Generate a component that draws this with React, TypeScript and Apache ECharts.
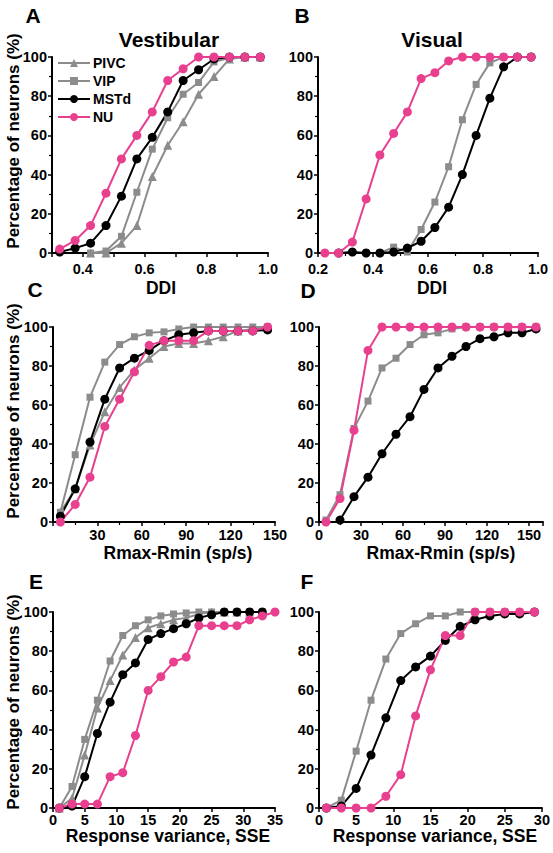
import React, { useEffect, useRef } from 'react';
import * as echarts from 'echarts';

// ---------- DATA ----------
const seriesNames = ['PIVC', 'VIP', 'MSTd', 'NU'];

// Panel A (Vestibular, DDI)
const ddiBinsA = [0.325, 0.375, 0.425, 0.475, 0.525, 0.575, 0.625, 0.675, 0.725, 0.775, 0.825, 0.875, 0.925, 0.975];
const pivcA = [null, null, 0, 0, 5, 14, 39, 55, 67, 81, 90, 99, 100, 100];
const vipA = [null, null, 0, 1, 8.5, 31, 53, 69, 81, 87, 97.5, 99.5, 100, 100];
const mstdA = [0.5, 2.5, 5, 14, 29, 48, 59, 72, 88, 93.5, 99, 100, 100, 100];
const nuA = [2, 6.4, 14, 30.5, 48, 60, 72, 88, 94, 100, 100, 100, 100, 100];

// Panel B (Visual, DDI)
const ddiBinsB = [0.225, 0.275, 0.325, 0.375, 0.425, 0.475, 0.525, 0.575, 0.625, 0.675, 0.725, 0.775, 0.825, 0.875, 0.925, 0.975];
const vipB = [null, null, null, null, 0, 3, 0.5, 12, 26, 44, 68, 86, 97, 100, 100, 100];
const mstdB = [null, 0, 0.5, 0, 0, 0.5, 2.5, 6, 13, 23.4, 40, 60, 79, 95, 100, 100];
const nuB = [0, 0, 5.6, 27.6, 50, 61, 72, 89, 92, 98, 100, 100, 100, 100, 100, 100];

// Panel C (Vestibular, Rmax-Rmin)
const rangeBinsC = [5, 15, 25, 35, 45, 55, 65, 75, 85, 95, 105, 115, 125, 135, 145];
const pivcC = [5, 17, 39.5, 56.5, 69, 78, 84, 90, 91.5, 91.5, 93, 95, 98, 99, 100];
const vipC = [5, 34.5, 64, 82, 91, 95, 97, 97.5, 99, 100, 100, 100, 100, 100, 100];
const mstdC = [3, 17, 41, 63, 79, 84, 88, 93, 96, 97, 98, 98, 98, 98, 98.5];
const nuC = [0, 9, 23, 49, 63, 77, 90.6, 93, 93, 93, 98, 98, 98, 98, 100];

// Panel D (Visual, Rmax-Rmin)
const rangeBinsD = [5, 15, 25, 35, 45, 55, 65, 75, 85, 95, 105, 115, 125, 135, 145, 155];
const vipD = [1, 14, 48, 62, 79, 84, 91, 96, 97, 99, 100, 100, 100, 100, 100, 100];
const mstdD = [null, 1, 13, 23, 35, 45, 54, 68, 79, 85, 90, 94, 95, 97, 97, 99];
const nuD = [0, 12, 47, 88, 100, 100, 100, 100, 100, 100, 100, 100, 100, 100, 100, 100];

// Panel E (Vestibular, SSE)
const sseBinsE = [1, 3, 5, 7, 9, 11, 13, 15, 17, 19, 21, 23, 25, 27, 29, 31, 33, 35];
const pivcE = [0, 5, 27, 51, 65, 78, 87, 92, 94, 96, 97, 99, 100, 100, 100, 100, 100, null];
const vipE = [0, 11, 35, 55, 75, 88, 93, 96, 98, 99, 99.5, 100, 100, 100, 100, 100, 100, null];
const mstdE = [0, 1, 16, 38, 54, 68, 74, 86, 89, 91.5, 94, 97, 98.6, 100, 100, 100, 100, null];
const nuE = [0, 2, 2, 2, 16, 18, 37, 60, 67, 74.5, 77, 93, 93, 93, 93, 96, 98, 100];

// Panel F (Visual, SSE)
const sseBinsF = [1, 3, 5, 7, 9, 11, 13, 15, 17, 19, 21, 23, 25, 27, 29];
const vipF = [0, 4, 29, 55, 76, 89, 94, 98, 98, 100, 100, 100, 100, 100, 100];
const mstdF = [0, 1, 10, 27, 46, 65, 72, 77.5, 85.5, 92.7, 96, 98, 99, 99, 100];
const nuF = [0, 0, 0, 0, 6, 17, 47, 70.5, 88, 88, 100, 100, 100, 100, 100];

const yTicks = [0, 20, 40, 60, 80, 100];

// ---------- STYLE ----------
const PINK = '#e8408f';
const GRAY = '#8c8c8c';
const BLACK = '#000000';
const FONT = '"Liberation Sans", Arial, sans-serif';

const styleOf: Record<string, { color: string; symbol: string; size: number }> = {
  PIVC: { color: GRAY, symbol: 'triangle', size: 9 },
  VIP: { color: GRAY, symbol: 'rect', size: 7 },
  MSTd: { color: BLACK, symbol: 'circle', size: 9 },
  NU: { color: PINK, symbol: 'circle', size: 9 },
};

type Panel = {
  x: number[];
  series: { name: string; y: (number | null)[] }[];
  grid: { left: number; top: number; width: number; height: number };
  xMin: number;
  xMax: number;
  xInterval: number;
  xFormatter: (v: number) => string;
  minor: boolean;
  labelMargin: number;
};

const fmt1 = (v: number) => v.toFixed(1);

const panels: Panel[] = [
  {
    x: ddiBinsA,
    series: [
      { name: 'PIVC', y: pivcA },
      { name: 'VIP', y: vipA },
      { name: 'MSTd', y: mstdA },
      { name: 'NU', y: nuA },
    ],
    grid: { left: 52, top: 57, width: 216, height: 196 },
    xMin: 0.3, xMax: 1.0, xInterval: 0.1,
    xFormatter: (v) => (Math.round(v * 10) % 2 === 0 ? v.toFixed(1) : ''),
    minor: false,
    labelMargin: 8,
  },
  {
    x: ddiBinsB,
    series: [
      { name: 'VIP', y: vipB },
      { name: 'MSTd', y: mstdB },
      { name: 'NU', y: nuB },
    ],
    grid: { left: 318, top: 57, width: 220, height: 196 },
    xMin: 0.2, xMax: 1.0, xInterval: 0.2,
    xFormatter: fmt1,
    minor: true,
    labelMargin: 8,
  },
  {
    x: rangeBinsC,
    series: [
      { name: 'PIVC', y: pivcC },
      { name: 'VIP', y: vipC },
      { name: 'MSTd', y: mstdC },
      { name: 'NU', y: nuC },
    ],
    grid: { left: 53, top: 327, width: 222, height: 195 },
    xMin: 0, xMax: 150, xInterval: 30,
    xFormatter: (v) => (v === 0 ? '' : String(v)),
    minor: true,
    labelMargin: 5,
  },
  {
    x: rangeBinsD,
    series: [
      { name: 'VIP', y: vipD },
      { name: 'MSTd', y: mstdD },
      { name: 'NU', y: nuD },
    ],
    grid: { left: 319, top: 327, width: 224, height: 195 },
    xMin: 0, xMax: 160, xInterval: 30,
    xFormatter: (v) => (v > 150 ? '' : String(v)),
    minor: true,
    labelMargin: 5,
  },
  {
    x: sseBinsE,
    series: [
      { name: 'PIVC', y: pivcE },
      { name: 'VIP', y: vipE },
      { name: 'MSTd', y: mstdE },
      { name: 'NU', y: nuE },
    ],
    grid: { left: 53, top: 612, width: 222, height: 196 },
    xMin: 0, xMax: 35, xInterval: 5,
    xFormatter: (v) => String(v),
    minor: false,
    labelMargin: 4,
  },
  {
    x: sseBinsF,
    series: [
      { name: 'VIP', y: vipF },
      { name: 'MSTd', y: mstdF },
      { name: 'NU', y: nuF },
    ],
    grid: { left: 319, top: 612, width: 224, height: 196 },
    xMin: 0, xMax: 30, xInterval: 5,
    xFormatter: (v) => String(v),
    minor: false,
    labelMargin: 4,
  },
];

const panelLetters = [
  { t: 'A', x: 33, y: 15 },
  { t: 'B', x: 302, y: 15 },
  { t: 'C', x: 35, y: 289 },
  { t: 'D', x: 308, y: 290 },
  { t: 'E', x: 36, y: 581 },
  { t: 'F', x: 307, y: 581 },
];
const columnTitles = [
  { t: 'Vestibular', x: 169, y: 39 },
  { t: 'Visual', x: 432, y: 39 },
];
const xNames = [
  { t: 'DDI', x: 161, y: 288 },
  { t: 'DDI', x: 432, y: 288 },
  { t: 'Rmax-Rmin (sp/s)', x: 178, y: 553 },
  { t: 'Rmax-Rmin (sp/s)', x: 441, y: 553 },
  { t: 'Response variance, SSE', x: 168, y: 836 },
  { t: 'Response variance, SSE', x: 435, y: 836 },
];
const yNames = [
  { t: 'Percentage of neurons (%)', x: 13, y: 141 },
  { t: 'Percentage of neurons (%)', x: 13, y: 411 },
  { t: 'Percentage of neurons (%)', x: 13, y: 702 },
];

function buildOption() {
  const grid: any[] = [];
  const xAxis: any[] = [];
  const yAxis: any[] = [];
  const series: any[] = [];
  panels.forEach((p, i) => {
    grid.push({ ...p.grid, containLabel: false });
    xAxis.push({
      type: 'value',
      gridIndex: i,
      min: p.xMin,
      max: p.xMax,
      interval: p.xInterval,
      splitLine: { show: false },
      axisLine: { show: true, onZero: false, lineStyle: { color: '#000', width: 2 } },
      axisTick: { show: true, inside: false, length: 4, lineStyle: { color: '#000', width: 1.5 } },
      minorTick: { show: p.minor, splitNumber: 2, length: 3, lineStyle: { color: '#000', width: 1.2 } },
      axisLabel: {
        color: '#000', fontFamily: FONT, fontWeight: 'bold', fontSize: 14.5, margin: p.labelMargin,
        formatter: p.xFormatter,
      },
    });
    yAxis.push({
      type: 'value',
      gridIndex: i,
      min: 0,
      max: 100,
      interval: 20,
      splitLine: { show: false },
      axisLine: { show: true, onZero: false, lineStyle: { color: '#000', width: 2 } },
      axisTick: { show: true, inside: false, length: 4, lineStyle: { color: '#000', width: 1.5 } },
      minorTick: { show: true, splitNumber: 2, length: 3, lineStyle: { color: '#000', width: 1.2 } },
      axisLabel: {
        color: '#000', fontFamily: FONT, fontWeight: 'bold', fontSize: 14.5, margin: 5,
        formatter: (v: number) => (yTicks.includes(v) ? String(v) : ''),
      },
    });
    p.series.forEach((s) => {
      const st = styleOf[s.name];
      const data: [number, number][] = [];
      p.x.forEach((xv, k) => {
        const yv = s.y[k];
        if (yv !== null && yv !== undefined) data.push([xv, yv]);
      });
      series.push({
        type: 'line',
        name: s.name,
        xAxisIndex: i,
        yAxisIndex: i,
        data,
        symbol: st.symbol,
        symbolSize: st.size,
        showSymbol: true,
        lineStyle: { color: st.color, width: 2 },
        itemStyle: { color: st.color, borderWidth: 0 },
        z: 2,
        silent: true,
      });
    });
  });

  const graphic: any[] = [];
  panelLetters.forEach((l) =>
    graphic.push({
      type: 'text', x: l.x, y: l.y,
      style: { text: l.t, font: `bold 21px ${FONT}`, fill: '#000', textAlign: 'center', textVerticalAlign: 'middle' },
    })
  );
  columnTitles.forEach((l) =>
    graphic.push({
      type: 'text', x: l.x, y: l.y,
      style: { text: l.t, font: `bold 21px ${FONT}`, fill: '#000', textAlign: 'center', textVerticalAlign: 'middle' },
    })
  );
  xNames.forEach((l) =>
    graphic.push({
      type: 'text', x: l.x, y: l.y,
      style: { text: l.t, font: `bold 17.5px ${FONT}`, fill: '#000', textAlign: 'center', textVerticalAlign: 'middle' },
    })
  );
  yNames.forEach((l) =>
    graphic.push({
      type: 'text', x: l.x, y: l.y, rotation: Math.PI / 2,
      style: { text: l.t, font: `bold 17px ${FONT}`, fill: '#000', textAlign: 'center', textVerticalAlign: 'middle' },
    })
  );

  return {
    animation: false,
    backgroundColor: '#ffffff',
    grid,
    xAxis,
    yAxis,
    series,
    legend: {
      data: seriesNames,
      orient: 'vertical',
      left: 57,
      top: 56,
      itemWidth: 32,
      itemHeight: 10,
      itemGap: 4,
      selectedMode: false,
      textStyle: { color: '#000', fontFamily: FONT, fontWeight: 'bold', fontSize: 14, lineHeight: 14, padding: [0, 0, 0, -2] },
      padding: 0,
    },
    graphic,
  };
}

export default function App() {
  const ref = useRef<HTMLDivElement>(null);
  useEffect(() => {
    if (!ref.current) return;
    const chart = echarts.init(ref.current, undefined, { renderer: 'svg' });
    chart.setOption(buildOption() as any);
    return () => chart.dispose();
  }, []);
  return (
    <div
      ref={ref}
      style={{ position: 'fixed', left: 0, top: 0, width: 553, height: 853, background: '#fff' }}
    />
  );
}
